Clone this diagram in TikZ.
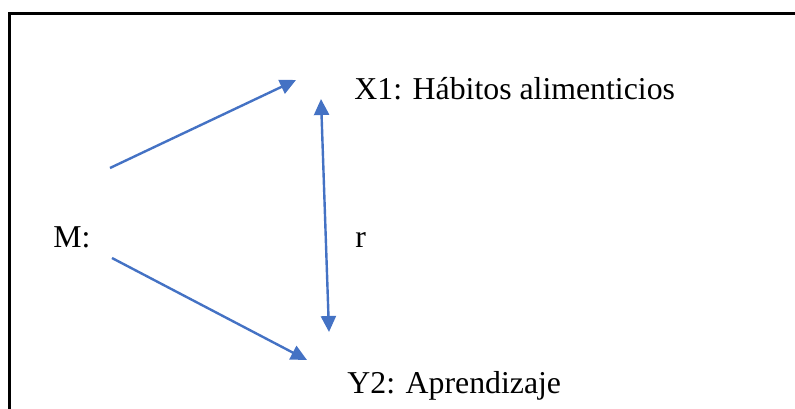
\documentclass[tikz,border=0pt]{standalone}
\usepackage{fontspec}
\setmainfont{Liberation Serif}
\usetikzlibrary{positioning}
\usetikzlibrary{arrows.meta}
\definecolor{linkblue}{RGB}{68,114,196}

\begin{document}
\begin{tikzpicture}[x=0.5pt, y=-0.5pt,
    every node/.style={font=\fontsize{15.9}{19}\selectfont, inner sep=0pt, anchor=base west},
    link/.style={linkblue, line width=1.2pt, -{Triangle[length=8pt,width=7.5pt]}},
    duallink/.style={linkblue, line width=1.2pt, {Triangle[length=8pt,width=7.5pt]}-{Triangle[length=8pt,width=7.5pt]}}]
    \useasboundingbox (0,0) rectangle (795,408);
    \clip (0,0) rectangle (795,408);
    % frame, cut off at the right and bottom
    \draw[line width=1.5pt] (9,420) -- (9,13) -- (810,13);

    \node (m) at (53,247) {M:};
    \node (x1) at (354,99) {X1: Hábitos alimenticios};
    \node (r) at (355,247) {r};
    \node (y2) at (347,393) {Y2: Aprendizaje};

    \coordinate (mup) at (110,168);
    \coordinate (mdown) at (112,258);
    \coordinate (x1tip) at (296,80);
    \coordinate (y2tip) at (307,360);
    \coordinate (rtop) at (321,99);
    \coordinate (rbot) at (329,332);

    \draw[link] (mup) -- (x1tip);
    \draw[link] (mdown) -- (y2tip);
    \draw[duallink] (rbot) -- (rtop);
\end{tikzpicture}
\end{document}
